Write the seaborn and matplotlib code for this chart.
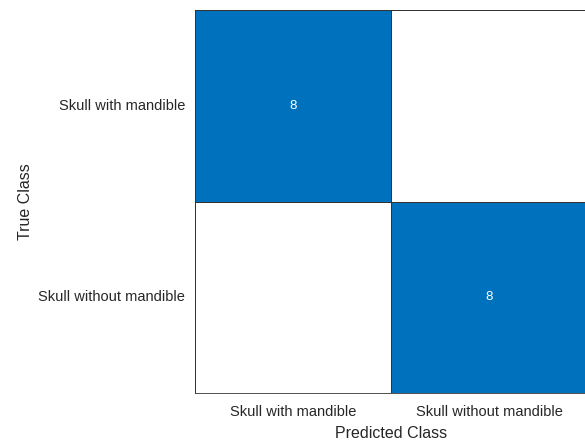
import matplotlib
matplotlib.use("Agg")
import matplotlib.pyplot as plt
import seaborn as sns
import numpy as np
import pandas as pd
from matplotlib.colors import ListedColormap

classes = ["Skull with mandible", "Skull without mandible"]
counts = [[8, 0],
          [0, 8]]

sns.set_style("white")
plt.rcParams['font.family'] = ['Liberation Sans', 'DejaVu Sans']

df = pd.DataFrame(counts, index=classes, columns=classes)
annot = np.array([[str(v) if v else "" for v in row] for row in counts])

fig = plt.figure(figsize=(5.85, 4.41), dpi=100)
ax = fig.add_axes([195/585, 48/441, 392/585, 383/441])
cmap = ListedColormap(["#FFFFFF", "#0072BD"])
sns.heatmap(df, ax=ax, cmap=cmap, vmin=0, vmax=8, cbar=False,
            annot=annot, fmt="", annot_kws={"color": "white", "fontsize": 9.5},
            linewidths=0.6, linecolor="#333333")
for s in ax.spines.values():
    s.set_visible(True)
    s.set_color("#333333")
    s.set_linewidth(0.6)
ax.tick_params(axis="y", length=0, labelsize=10.5, colors="#262626", pad=7)
ax.tick_params(axis="x", length=0, labelsize=10.5, colors="#262626", pad=9)
ax.set_yticklabels(classes, rotation=0)
ax.set_xticklabels(classes, rotation=0)
ax.set_xlabel("Predicted Class", fontsize=11.5, color="#262626", labelpad=5)
ax.set_ylabel("True Class", fontsize=11.5, color="#262626", labelpad=4)
fig.savefig("out.png", dpi=100)
